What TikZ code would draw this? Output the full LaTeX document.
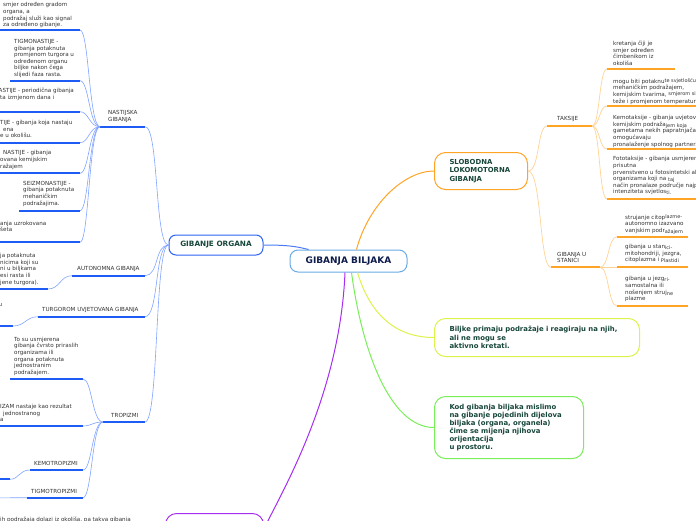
\documentclass[tikz,border=0pt]{standalone}
\usepackage{fontspec}
\setmainfont{DejaVu Sans}
\usetikzlibrary{calc}
\definecolor{ulblue}{HTML}{1F5CF5}
\definecolor{cnblue}{HTML}{7FA3FF}
\definecolor{orgblue}{HTML}{2E63F5}
\definecolor{cenblue}{HTML}{6AAAE6}
\definecolor{navy}{HTML}{0E1C4C}
\definecolor{dgreen}{HTML}{17463A}
\definecolor{orangeA}{HTML}{FFA424}
\definecolor{orangeB}{HTML}{FFD394}
\definecolor{yelA}{HTML}{DDF24A}
\definecolor{grnA}{HTML}{78EE58}
\definecolor{purpA}{HTML}{A62EF0}
\definecolor{txtgray}{HTML}{333333}
\newcommand\smtxt{\fontsize{5.6}{6.6}\selectfont}
\newcommand\rlo[1]{\raisebox{-0.9pt}{\fontsize{5}{6}\selectfont #1}}
\newcommand\rhi[1]{\raisebox{0.9pt}{\fontsize{5}{6}\selectfont #1}}
\begin{document}
\begin{tikzpicture}[x=1pt,y=-1pt,
  txt/.style={font=\smtxt, text=txtgray, align=left, inner sep=0pt, anchor=north west},
  ul/.style={line width=1.7pt, draw=ulblue},
  cn/.style={line width=0.6pt, draw=cnblue},
  oul/.style={line width=1.7pt, draw=orangeA},
  ocn/.style={line width=0.7pt, draw=orangeB},
  topic/.style={rounded corners=11pt, line width=1pt, fill=white, inner ysep=0pt, inner xsep=15pt,
     font=\bfseries\fontsize{6.9}{8.5}\selectfont, text=dgreen, align=left, anchor=north west},
  cenbox/.style={draw=cenblue, line width=1pt, rounded corners=8pt, fill=white, minimum width=117pt,
     minimum height=22pt, inner sep=0pt, font=\bfseries\fontsize{9}{10}\selectfont, text=navy},
  orgbox/.style={draw=orgblue, line width=1pt, rounded corners=7pt, fill=white, minimum width=94pt,
     minimum height=20pt, inner sep=0pt, font=\bfseries\fontsize{7.3}{8}\selectfont, text=dgreen}]
\useasboundingbox (0,0) rectangle (696,520);
\clip (0,0) rectangle (696,520);

% ---------- main nodes ----------
\node[cenbox] (cen) at (348.5,261) {GIBANJA BILJAKA};
\node[orgbox] (org) at (216,245) {GIBANJE ORGANA};
\node[topic, draw=orangeA, minimum height=37pt, text width=63pt] (slob) at (434,152) {SLOBODNA\\LOKOMOTORNA\\GIBANJA};
\node[topic, draw=yelA, minimum height=38pt, text width=175pt] (bilj) at (434,318) {Biljke primaju podražaje i reagiraju na njih,\\ali ne mogu se\\aktivno kretati.};
\node[topic, draw=grnA, minimum height=62pt, text width=119pt, font=\bfseries\fontsize{6.9}{8}\selectfont] (kod) at (434,396) {Kod gibanja biljaka mislimo\\na gibanje pojedinih dijelova\\biljaka (organa, organela)\\čime se mijenja njihova\\orijentacija\\u prostoru.};
\node[topic, draw=purpA, minimum height=30pt, minimum width=98pt, inner xsep=0pt] (bot) at (165,513) {};

% ---------- connectors from centre ----------
\draw[line width=1pt, draw=orgblue!85] (org.east) .. controls +(25,0) and +(-12,-3) .. ($(cen.north)+(-40,0)$);
\draw[line width=1pt, draw=orangeA] ($(cen.north)+(8,0)$) .. controls +(12,-45) and +(-30,0) .. (slob.west);
\draw[line width=1pt, draw=yelA] ($(cen.south)+(9,0)$) .. controls +(12,40) and +(-40,0) .. (bilj.west);
\draw[line width=1pt, draw=grnA] ($(cen.south)+(3,0)$) .. controls +(10,75) and +(-45,0) .. (kod.west);
\draw[line width=1pt, draw=purpA] ($(cen.south)+(-3.5,0)$) .. controls +(-5,120) and +(20,-40) .. (bot.east);

% ---------- left: labels ----------
\node[txt] (nas) at (108,110.2) {NASTIJSKA\\GIBANJA};
\coordinate (nasL) at (100,126.7); \coordinate (nasR) at (145,126.7);
\node[txt] (aut) at (77,266.5) {AUTONOMNA GIBANJA};
\coordinate (autL) at (72,275.7); \coordinate (autR) at (145,275.7);
\node[txt] (tur) at (42,307.5) {TURGOROM UVJETOVANA GIBANJA};
\coordinate (turL) at (38,316.7); \coordinate (turR) at (145,316.7);
\node[txt] (tro) at (111,413.2) {TROPIZMI};
\coordinate (troL) at (103,422); \coordinate (troR) at (145,422);
\foreach \n in {nas,aut,tur,tro} {\draw[ul] (\n L) -- (\n R);}
\foreach \n in {nas,aut,tur,tro} {\draw[cn] (org.west) .. controls +(-14,0) and +(14,0) .. (\n R);}

% ---------- nastijska children ----------
\node[txt] (a1) at (3,2.5) {smjer određen gradom\\organa, a\\podražaj služi kao signal\\za određeno gibanje.};
\coordinate (a1L) at (-5,30); \coordinate (a1R) at (80,30);
\node[txt] (a2) at (14,39.2) {TIGMONASTIJE -\\gibanja potaknuta\\promjenom turgora u\\određenom organu\\biljke nakon čega\\slijedi faza rasta.};
\coordinate (a2L) at (10,80.7); \coordinate (a2R) at (80,80.7);
\node[txt] (a3) at (-1.5,88.2) {ASTIJE - periodična gibanja\\\hspace*{1.5pt}ta izmjenom dana i};
\coordinate (a3L) at (-5,111.7); \coordinate (a3R) at (80,111.7);
\node[txt] (a4) at (0,120.2) {TIJE - gibanja koja nastaju\\\hspace*{3pt}ena\\e u okolišu.};
\coordinate (a4L) at (-5,142.7); \coordinate (a4R) at (80,142.7);
\node[txt] (a5) at (0,150.5) {\hspace*{3pt}NASTIJE - gibanja\\ovana kemijskim\\ražajem};
\coordinate (a5L) at (-5,173.3); \coordinate (a5R) at (80,173.3);
\node[txt] (a6) at (23,181) {SEIZMONASTIJE -\\gibanja potaknuta\\mehaničkim\\podražajima.};
\coordinate (a6L) at (19,210.7); \coordinate (a6R) at (80,210.7);
\node[txt] (a7) at (0,220.8) {anja uzrokovana\\šeta};
\coordinate (a7L) at (-5,242.3); \coordinate (a7R) at (80,242.3);
\foreach \n in {a1,a2,a3,a4,a5,a6,a7} {\draw[ul] (\n L) -- (\n R);
  \draw[cn] (nasL) .. controls +(-11,0) and +(9,0) .. (\n R);}

% ---------- autonomna / turgorom children ----------
\node[txt] (b1) at (0,253.2) {ja potaknuta\\nicima koji su\\ni u biljkama\\esi rasta ili\\jene turgora).};
\coordinate (b1L) at (-5,289); \coordinate (b1R) at (48,289);
\draw[ul] (b1L) -- (b1R);
\draw[cn] (autL) .. controls +(-12,0) and +(12,0) .. (b1R);
\node[txt] (b2) at (-1.5,303.5) {u};
\coordinate (b2L) at (-5,326); \coordinate (b2R) at (13,326);
\draw[ul] (b2L) -- (b2R);
\draw[cn] (turL) .. controls +(-12,0) and +(12,0) .. (b2R);

% ---------- tropizmi children ----------
\node[txt] (c1) at (14,336.8) {To su usmjerena\\gibanja čvrsto priraslih\\organizama ili\\organa potaknuta\\jednostranim\\podražajem.};
\coordinate (c1L) at (10,379); \coordinate (c1R) at (83,379);
\node[txt] (c2) at (0,404.2) {IZAM nastaje kao rezultat\\\hspace*{3pt}jednostranog\\a};
\coordinate (c2L) at (-5,426); \coordinate (c2R) at (83,426);
\node[txt] (kem) at (34,461.5) {KEMOTROPIZMI};
\coordinate (kemL) at (30,470); \coordinate (kemR) at (83,470);
\node[txt] (tig) at (31,489.2) {TIGMOTROPIZMI};
\coordinate (tigL) at (27,497.7); \coordinate (tigR) at (83,497.7);
\foreach \n in {c1,c2,kem,tig} {\draw[ul] (\n L) -- (\n R);
  \draw[cn] (troL) .. controls +(-11,0) and +(9,0) .. (\n R);}
\coordinate (k1L) at (-5,479.3); \coordinate (k1R) at (10,479.3);
\draw[ul] (k1L) -- (k1R);
\draw[cn] (kemL) .. controls +(-11,0) and +(9,0) .. (k1R);
\coordinate (g1R) at (-10,497.9);
\draw[cn] (tigL) -- (g1R);
\node[txt] (bt) at (0,516.5) {ih podražaja dolazi iz okoliša, pa takva gibanja};

% ---------- right: slobodna ----------
\node[txt] (tak) at (557,116.5) {TAKSIJE};
\coordinate (takL) at (547,126); \coordinate (takR) at (592,126);
\node[txt] (sta) at (557,251.8) {GIBANJA U\\STANICI};
\coordinate (staL) at (551,267.3); \coordinate (staR) at (600,267.3);
\draw[oul] (takL) -- (takR);
\draw[oul] (staL) -- (staR);
\draw[ocn] (slob.east) .. controls +(12,0) and +(-10,0) .. (takL);
\draw[ocn] (slob.east) .. controls +(14,0) and +(-12,0) .. (staL);

\node[txt] (t1) at (613,40.8) {kretanja čiji je\\smjer određen\\čimbenikom iz\\okoliša};
\coordinate (t1L) at (607,69); \coordinate (t1R) at (675,69);
\node[txt] (t2) at (613,78.2) {mogu biti potaknu\rhi{te svjetlošću,}\\mehaničkim podražajem,\\kemijskim tvarima, \rhi{smjerom sile}\\teže i promjenom temperature};
\coordinate (t2L) at (607,106); \coordinate (t2R) at (700,106);
\node[txt] (t3) at (613,115.2) {Kemotaksije - gibanja uvjetovana\\kemijskim podraža\rlo{jem koja}\\gametama nekih papratnjača i\\omogućavaju\\pronalaženje spolnog partnera};
\coordinate (t3L) at (607,149); \coordinate (t3R) at (700,149);
\node[txt] (t4) at (613,156.5) {Fototaksije - gibanja usmjerena\\prisutna\\prvenstveno u fotosintetski aktivnih\\organizama koji na \rlo{taj}\\način pronalaze područje najpovoljnijeg\\intenziteta svjetlos\rlo{ti.}};
\coordinate (t4L) at (607,199); \coordinate (t4R) at (700,199);
\foreach \n in {t1,t2,t3,t4} {\draw[oul] (\n L) -- (\n R);
  \draw[ocn] (takR) .. controls +(8,0) and +(-8,0) .. (\n L);}

\node[txt] (s1) at (625,214.2) {strujanje citop\rhi{lazme-}\\autonomno izazvano\\vanjskim podr\rlo{ažajem}};
\coordinate (s1L) at (617,236.7); \coordinate (s1R) at (688,236.7);
\node[txt] (s2) at (625,244.2) {gibanja u stan\rlo{ici-}\\mitohondriji, jezgra,\\citoplazma i \rlo{Plastidi}};
\coordinate (s2L) at (617,267.3); \coordinate (s2R) at (688,267.3);
\node[txt] (s3) at (625,276.5) {gibanja u jezg\rlo{ri-}\\samostalna ili\\nošenjem struj\rlo{ne}\\plazme};
\coordinate (s3L) at (617,306); \coordinate (s3R) at (688,306);
\foreach \n in {s1,s2,s3} {\draw[oul] (\n L) -- (\n R);
  \draw[ocn] (staR) .. controls +(9,0) and +(-9,0) .. (\n L);}
\end{tikzpicture}
\end{document}
